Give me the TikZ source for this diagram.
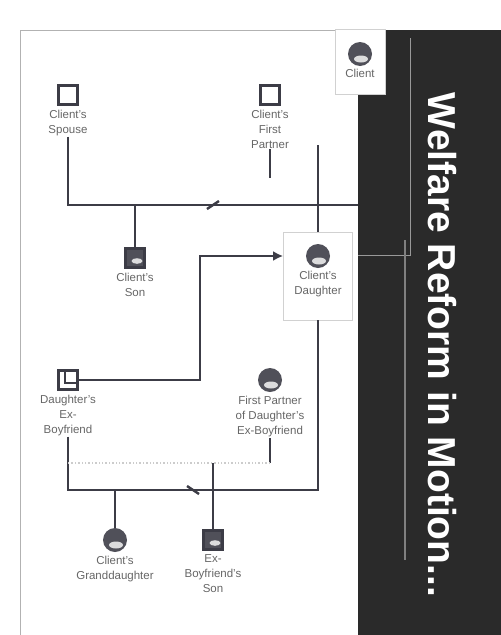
\documentclass[tikz,border=0pt]{standalone}
\usepackage{fontspec}
\setmainfont{Liberation Sans}
\usetikzlibrary{arrows.meta,positioning,calc}
\definecolor{band}{HTML}{2A2A2A}
\definecolor{ink}{HTML}{3C3C46}

\begin{document}
\begin{tikzpicture}[x=1pt, y=-1pt,
          malesym/.style={draw=ink, line width=2.2pt, fill=white, minimum size=19pt, inner sep=0pt},
          malefill/.style={malesym, fill=ink!90, path picture={\fill[white, opacity=.8] ($(path picture bounding box.center)+(2,3)$) ellipse (5.5pt and 2.8pt);}},
          femsym/.style={circle, fill=ink!90, minimum size=24pt, inner sep=0pt, path picture={\fill[white, opacity=.8] ($(path picture bounding box.center)+(1,5)$) ellipse (7pt and 3.5pt);}},
          panel/.style={draw=black!18, fill=white, line width=0.8pt},
          lbl/.style={font=\fontsize{11.5}{15}\selectfont, text=black!60, align=center, inner sep=1pt},
          rel/.style={draw=ink, line width=2.8pt},
          arr/.style={rel, -{Latex[length=10pt, width=10pt]}},
          slash/.style={draw=ink, line width=2.4pt}]
        \useasboundingbox (0,0) rectangle (501,635);
        % cover band and frame
        \fill[band] (358,30) rectangle (501,635);
        \draw[black!30, line width=1pt] (20,635) -- (20,30) -- (358,30);
        \draw[black!40, line width=0.8pt] (410,38) -- (410,255) -- (358,255);
        \draw[black!50, line width=1.4pt] (405,240) -- (405,560);
        \node[rotate=-90, text=white, font=\bfseries\fontsize{39}{39}\selectfont] (title) at (442,345) {Welfare Reform in Motion...};
        % people
        \node[panel, minimum width=50pt, minimum height=65pt] (cbox) at (360,62) {};
        \node[femsym] (client) at (360,54) {};
        \node[lbl, below=2pt of client] (lclient) {Client};
        \node[malesym] (spouse) at (68,95) {};
        \node[lbl, below=3pt of spouse] (lspouse) {Client's\\Spouse};
        \node[malesym] (fpartner) at (270,95) {};
        \node[lbl, below=3pt of fpartner] (lfpartner) {Client's\\First\\Partner};
        \node[malefill] (son) at (135,258) {};
        \node[lbl, below=3pt of son] (lson) {Client's\\Son};
        \node[panel, minimum width=69pt, minimum height=88pt] (dbox) at (318,276) {};
        \node[femsym] (dau) at (318,256) {};
        \node[lbl, below=2pt of dau] (ldau) {Client's\\Daughter};
        \node[malesym, path picture={\draw[ink, line width=1.6pt] ($(path picture bounding box.north)+(-3,0)$) -- ($(path picture bounding box.center)+(-3,3)$) -- ($(path picture bounding box.east)+(0,3)$);}] (exb) at (68,380) {};
        \node[lbl, below=3pt of exb] (lexb) {Daughter's\\Ex-\\Boyfriend};
        \node[femsym] (fpx) at (270,380) {};
        \node[lbl, below=3pt of fpx] (lfpx) {First Partner\\of Daughter's\\Ex-Boyfriend};
        \node[femsym] (gdau) at (115,540) {};
        \node[lbl, below=3pt of gdau] (lgdau) {Client's\\Granddaughter};
        \node[malefill] (exson) at (213,540) {};
        \node[lbl, below=3pt of exson] (lexson) {Ex-\\Boyfriend's\\Son};
        % junctions
        \coordinate (cR) at (358,205);
        \coordinate (cT) at (318,145);
        \coordinate (cF) at (270,178);
        \coordinate (cB) at (68,490);
        \coordinate (cD) at (270,463);
        \coordinate (cA) at (200,256);
        % links
        \draw[rel] (lspouse) |- (cR);
        \draw[rel] (son) -- (son |- cR);
        \draw[rel] (lfpartner) -- (cF);
        \draw[rel] (cT) -- (dbox);
        \draw[rel] (lexb) -- (cB) -| (dbox);
        \draw[rel] (gdau) -- (gdau |- cB);
        \draw[rel] (lfpx) -- (cD);
        \draw[black!20, line width=1.4pt, dotted] (cD) -- (cD -| lexb);
        \draw[rel] (exson) -- (exson |- cD);
        \draw[arr] (exb) -| (cA) -- (dbox.west |- dau);
        \draw[slash] (207,209) -- (219,201);
        \draw[slash] (187,486) -- (199,494);
      \end{tikzpicture}
\end{document}
